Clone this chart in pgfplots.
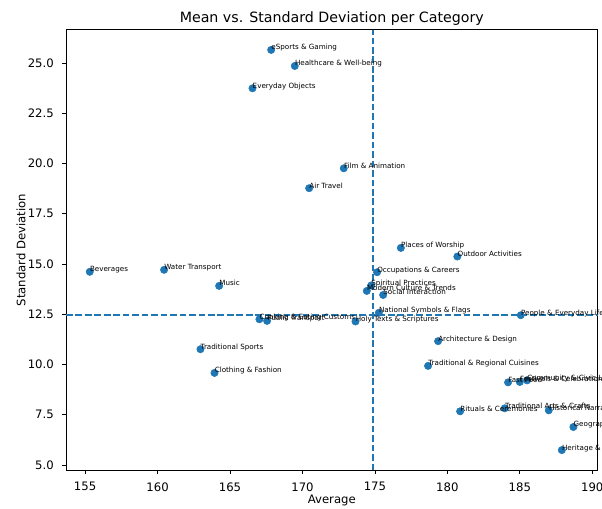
\documentclass[border=0pt]{standalone}
\usepackage{fontspec}
\setmainfont{DejaVu Sans}
\usepackage{pgfplots}
\pgfplotsset{compat=1.18}
\usepackage{pgfplotstable}
\definecolor{mplblue}{HTML}{1F77B4}

% average, standard deviation and name of each category
\pgfplotstableread[col sep=comma, row sep=\\]{
x,y,label\\
155.32,14.61,Beverages\\
160.45,14.71,Water Transport\\
164.25,13.91,Music\\
166.55,23.74,Everyday Objects\\
167.84,25.65,eSports \& Gaming\\
169.47,24.85,Healthcare \& Well-being\\
172.85,19.76,Film \& Animation\\
170.46,18.77,Air Travel\\
176.79,15.80,Places of Worship\\
180.69,15.37,Outdoor Activities\\
175.15,14.59,Occupations \& Careers\\
174.74,13.93,Spiritual Practices\\
174.44,13.66,Modern Culture \& Trends\\
175.57,13.46,Social Interaction\\
175.27,12.57,National Symbols \& Flags\\
173.66,12.14,Holy Texts \& Scriptures\\
185.07,12.45,People \& Everyday Life\\
167.03,12.25,Cooking \& Eating Customs\\
167.56,12.17,Public Transport\\
162.96,10.76,Traditional Sports\\
163.93,9.58,Clothing \& Fashion\\
179.36,11.16,Architecture \& Design\\
178.67,9.93,Traditional \& Regional Cuisines\\
184.19,9.11,Fast Food\\
185.00,9.13,Festivals \& Celebrations\\
185.50,9.21,Community \& Civic Life\\
183.96,7.82,Traditional Arts \& Crafts\\
180.88,7.67,Rituals \& Ceremonies\\
187.00,7.72,Historical Narratives\\
188.70,6.89,Geography\\
187.90,5.74,Heritage \& Traditions\\
}\cats

\begin{document}
\begin{tikzpicture}
\begin{axis}[
  scale only axis,
  width=398.7pt, height=330.3pt,
  xmin=153.68, xmax=190.37,
  ymin=4.74, ymax=26.65,
  clip=false,
  axis line style={line width=0.7pt},
  xtick={155,160,...,190},
  ytick={5,7.5,...,25},
  tick pos=left,
  tick align=outside,
  major tick length=3pt,
  every tick/.style={black, line width=0.6pt},
  tick label style={font=\fontsize{8.75}{10}\selectfont, /pgf/number format/assume math mode=true},
  yticklabel style={/pgf/number format/fixed, /pgf/number format/fixed zerofill, /pgf/number format/precision=1,
    anchor=east, inner sep=0pt, xshift=-6pt},
  xticklabel style={anchor=north, inner sep=0pt, yshift=-6pt},
  title={Mean vs. Standard Deviation per Category},
  every axis title/.style={at={(0.5,1)}, anchor=base, yshift=5.25pt, inner sep=0pt, font=\fontsize{10.65}{12}\selectfont},
  xlabel={Average},
  ylabel={Standard Deviation},
  every axis x label/.style={at={(0.5,0)}, anchor=base, yshift=-25pt, inner sep=0pt, font=\fontsize{8.75}{10}\selectfont},
  every axis y label/.style={at={(0,0.5)}, xshift=-30.4pt, rotate=90, anchor=base, inner sep=0pt, font=\fontsize{8.75}{10}\selectfont},
]
\addplot[only marks, mark=*, mark size=2.75pt, color=mplblue] table[x=x, y=y] {\cats};
\addplot[mplblue, line width=1.3pt, dash pattern=on 5pt off 2.1pt, forget plot] coordinates {(174.85,4.74) (174.85,26.65)};
\addplot[mplblue, line width=1.3pt, dash pattern=on 5pt off 2.1pt, forget plot] coordinates {(153.68,12.45) (190.37,12.45)};
\addplot[draw=none, no markers, point meta=explicit symbolic, nodes near coords,
  every node near coord/.append style={anchor=base west, inner sep=0pt, black, font=\fontsize{5.37}{6}\selectfont}]
  table[x=x, y=y, meta=label] {\cats};
\end{axis}
\pgfresetboundingbox
\useasboundingbox (-49.5pt,-28.35pt) rectangle (402pt,352.65pt);
\end{tikzpicture}
\end{document}
